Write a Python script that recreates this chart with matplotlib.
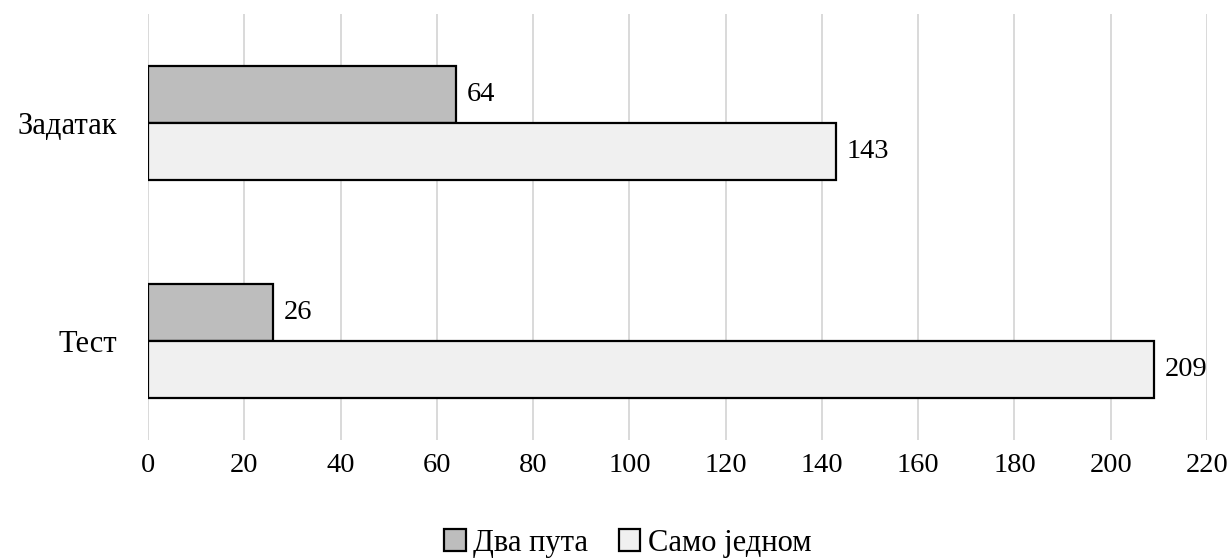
import matplotlib
matplotlib.use("Agg")
import matplotlib.pyplot as plt
import numpy as np
from matplotlib.patches import Patch

categories = ["Тест", "Задатак"]
series_names = ["Два пута", "Само једном"]
dva_puta = [26, 64]
samo_jednom = [209, 143]
xticks = [0, 20, 40, 60, 80, 100, 120, 140, 160, 180, 200, 220]

FONT = ['Liberation Serif', 'DejaVu Serif']
plt.rcParams['font.family'] = FONT

W, H = 1232, 558
fig = plt.figure(figsize=(W / 100, H / 100), dpi=100)
ax = fig.add_axes([148 / W, (H - 440) / H, (1207 - 148) / W, (440 - 14) / H])

y = np.arange(len(categories))
h = 0.262
fs = 20.5
fs_txt = 22

b1 = ax.barh(y + h / 2, dva_puta, height=h, color="#bdbdbd", edgecolor="black", linewidth=1.6, zorder=3)
b2 = ax.barh(y - h / 2, samo_jednom, height=h, color="#f0f0f0", edgecolor="black", linewidth=1.6, zorder=3)

for bars, vals in ((b1, dva_puta), (b2, samo_jednom)):
    for rect, v in zip(bars, vals):
        ax.annotate(str(v), (rect.get_width(), rect.get_y() + rect.get_height() / 2),
                    xytext=(7.5, 0), textcoords="offset points", va="center", ha="left",
                    fontsize=fs, family=FONT)

ax.set_xlim(0, 220)
ax.set_ylim(-0.454, 1.5)
ax.set_xticks(xticks)
ax.set_xticklabels([str(t) for t in xticks], fontsize=fs, family=FONT)
ax.set_yticks(y)
ax.set_yticklabels(categories, fontsize=fs_txt, family=FONT)
ax.tick_params(axis="x", length=0, pad=9)
ax.tick_params(axis="y", length=0, pad=22)
ax.grid(axis="x", color="#d9d9d9", linewidth=1.4, zorder=0)
for s in ax.spines.values():
    s.set_visible(False)

handles = [Patch(facecolor="#bdbdbd", edgecolor="black", linewidth=1.6),
           Patch(facecolor="#f0f0f0", edgecolor="black", linewidth=1.6)]
fig.legend(handles, series_names, loc="center", bbox_to_anchor=(628 / W, 1 - 543 / H),
           ncol=2, frameon=False, prop={'family': FONT, 'size': fs_txt},
           handlelength=0.7, handleheight=0.7, handletextpad=0.25, columnspacing=1.0)

fig.savefig("out.png", dpi=100)
